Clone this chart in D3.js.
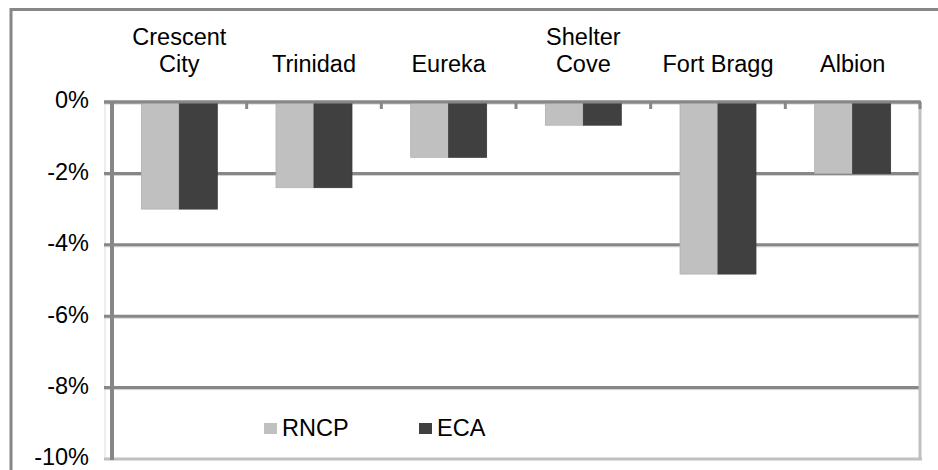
<!DOCTYPE html>
<html>
<head>
<meta charset="utf-8">
<script src="https://cdn.jsdelivr.net/npm/d3@7"></script>
<style>
  body { margin: 0; background: #fff; }
  svg { display: block; font-family: "Liberation Sans", Arial, sans-serif; }
</style>
</head>
<body>
<div id="chart"></div>
<script>
//categories (label lines)
const categories = ["Crescent City", "Trinidad", "Eureka", "Shelter Cove", "Fort Bragg", "Albion"];
const categoryLines = [["Crescent", "City"], ["Trinidad"], ["Eureka"], ["Shelter", "Cove"], ["Fort Bragg"], ["Albion"]];

//series values (%)
const seriesKeys = ["RNCP", "ECA"];
const rncp = [-3.0, -2.4, -1.55, -0.65, -4.82, -2.0];
const eca = [-3.0, -2.4, -1.55, -0.65, -4.82, -2.0];

//y ticks
const yTicks = [0, -2, -4, -6, -8, -10];
const yTickLabels = ["0%", "-2%", "-4%", "-6%", "-8%", "-10%"];

//colors
const color = d3.scaleOrdinal().domain(seriesKeys).range(["#c0c0c0", "#404040"]);

//size
const width = 938;
const height = 470;
const plot = { left: 112, right: 920, top: 102, bottom: 459 };
const fontSize = 23.5;

const data = categories.map((c, i) => ({ cat: c, RNCP: rncp[i], ECA: eca[i] }));

const svg = d3
  .select("#chart")
  .append("svg")
  .attr("width", width)
  .attr("height", height);

//outer frame
svg
  .append("rect")
  .attr("x", 11)
  .attr("y", 9.5)
  .attr("width", 960)
  .attr("height", 500)
  .attr("fill", "none")
  .attr("stroke", "#878787")
  .attr("stroke-width", 3);

//scales
const x = d3
  .scaleBand()
  .domain(categories)
  .range([plot.left, plot.right])
  .paddingInner(0)
  .paddingOuter(0);

const x1 = d3
  .scaleBand()
  .domain(seriesKeys)
  .range([x.bandwidth() * 0.218, x.bandwidth() * 0.782]);

const y = d3.scaleLinear().domain([-10, 0]).range([plot.bottom, plot.top]);

//light shadow line on left
svg
  .append("line")
  .attr("x1", 105)
  .attr("x2", 105)
  .attr("y1", plot.top)
  .attr("y2", plot.bottom + 1)
  .attr("stroke", "#dcdcdc")
  .attr("stroke-width", 1);

//gridlines
const grid = svg.append("g").attr("class", "grid");
yTicks
  .filter((d) => d != -10)
  .forEach((t) => {
    grid
      .append("line")
      .attr("x1", 104)
      .attr("x2", plot.right)
      .attr("y1", y(t) + 2)
      .attr("y2", y(t) + 2)
      .attr("stroke", "#cfcfcf")
      .attr("stroke-width", 1);
    grid
      .append("line")
      .attr("x1", 104)
      .attr("x2", plot.right)
      .attr("y1", y(t))
      .attr("y2", y(t))
      .attr("stroke", "#878787")
      .attr("stroke-width", 3);
  });

//bottom edge
svg
  .append("line")
  .attr("x1", 104)
  .attr("x2", plot.right + 2)
  .attr("y1", plot.bottom)
  .attr("y2", plot.bottom)
  .attr("stroke", "#c0c0c0")
  .attr("stroke-width", 3);

//right edge
svg
  .append("line")
  .attr("x1", plot.right)
  .attr("x2", plot.right)
  .attr("y1", plot.top)
  .attr("y2", plot.bottom)
  .attr("stroke", "#c0c0c0")
  .attr("stroke-width", 3);

//category ticks on zero line
svg
  .append("g")
  .selectAll("line")
  .data(categories.slice(1).concat(["end"]))
  .join("line")
  .attr("x1", (d) => (d == "end" ? plot.right : x(d)))
  .attr("x2", (d) => (d == "end" ? plot.right : x(d)))
  .attr("y1", y(0))
  .attr("y2", y(0) + 7)
  .attr("stroke", "#878787")
  .attr("stroke-width", 3);

//bars
svg
  .append("g")
  .selectAll("g")
  .data(data)
  .join("g")
  .attr("transform", (d) => `translate(${x(d.cat)},0)`)
  .selectAll("rect")
  .data((d) => seriesKeys.map((k) => ({ key: k, value: d[k] })))
  .join("rect")
  .attr("x", (d) => x1(d.key))
  .attr("y", y(0))
  .attr("width", x1.bandwidth())
  .attr("height", (d) => y(d.value) - y(0))
  .attr("fill", (d) => color(d.key))
  .attr("stroke", (d) => (d.key == "RNCP" ? "#b0b0b0" : "#3a3a3a"))
  .attr("stroke-width", 0.8);

//zero line on top of bars
svg
  .append("line")
  .attr("x1", 104)
  .attr("x2", plot.right + 1)
  .attr("y1", y(0))
  .attr("y2", y(0))
  .attr("stroke", "#878787")
  .attr("stroke-width", 3);

//y axis line
svg
  .append("line")
  .attr("x1", plot.left)
  .attr("x2", plot.left)
  .attr("y1", y(0) - 1)
  .attr("y2", plot.bottom + 1)
  .attr("stroke", "#878787")
  .attr("stroke-width", 4);

//y tick labels
svg
  .append("g")
  .selectAll("text")
  .data(yTicks)
  .join("text")
  .attr("x", 89)
  .attr("y", (d) => y(d))
  .attr("dy", "0.27em")
  .attr("text-anchor", "end")
  .attr("font-size", fontSize)
  .attr("fill", "#000")
  .text((d, i) => yTickLabels[i]);

//category labels at top
svg
  .append("g")
  .selectAll("text")
  .data(data)
  .join("text")
  .attr("text-anchor", "middle")
  .attr("font-size", fontSize)
  .attr("fill", "#000")
  .each(function (d, i) {
    const lines = categoryLines[i];
    d3.select(this)
      .selectAll("tspan")
      .data(lines)
      .join("tspan")
      .attr("x", x(d.cat) + x.bandwidth() / 2)
      .attr("y", (l, j) => 72 - (lines.length - 1 - j) * 27)
      .text((l) => l);
  });

//legend
const legendX = [264, 419];
const legend = svg
  .append("g")
  .selectAll("g")
  .data(seriesKeys)
  .join("g")
  .attr("transform", (d, i) => `translate(${legendX[i]},423)`);

legend
  .append("rect")
  .attr("width", 13)
  .attr("height", 11)
  .attr("fill", (d) => color(d));

legend
  .append("text")
  .attr("x", 18)
  .attr("y", 12.5)
  .attr("font-size", fontSize)
  .attr("fill", "#000")
  .text((d) => d);
</script>
</body>
</html>
